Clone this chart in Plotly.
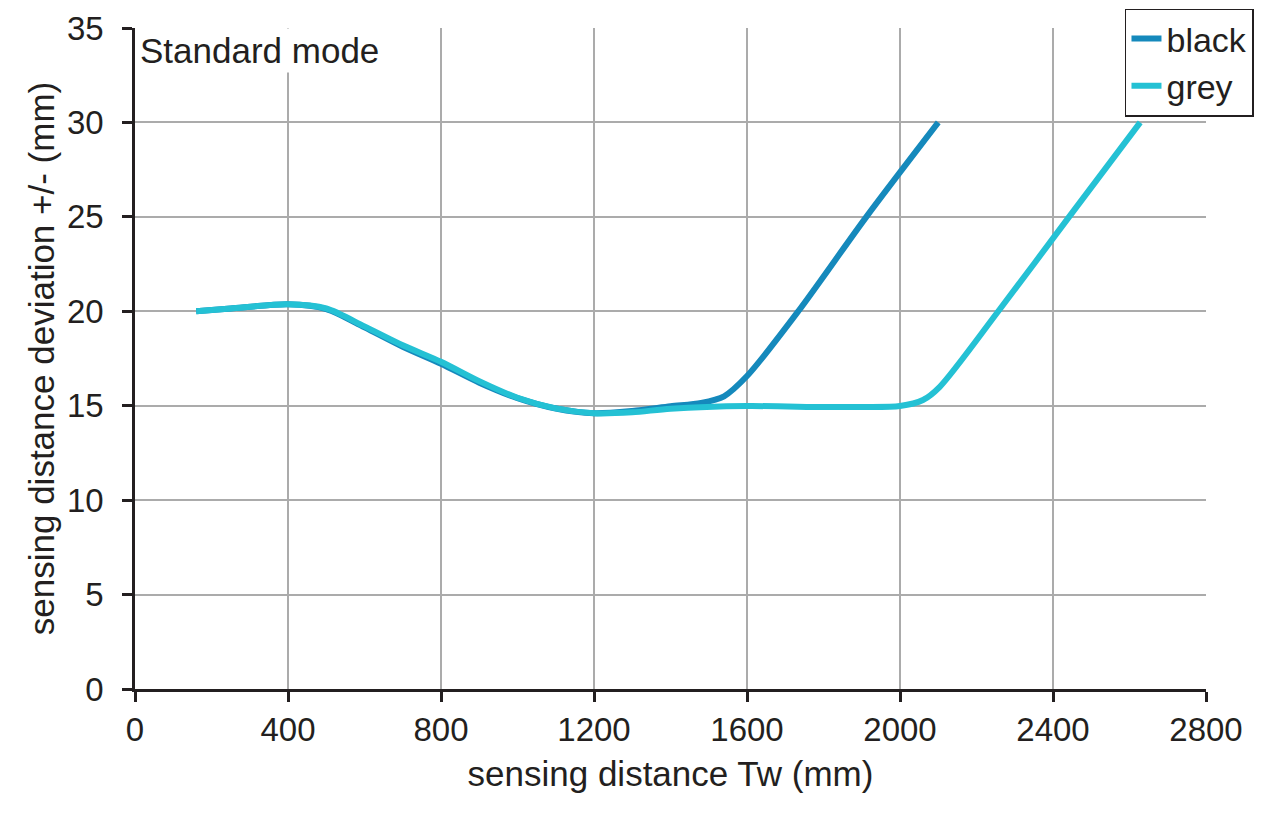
import plotly.graph_objects as go

# Data
black_x = [160, 250, 400, 500, 600, 700, 800, 900, 1000, 1100, 1200, 1300, 1400, 1480, 1540, 1600, 1734, 1912, 2100]
black_y = [20.0, 20.15, 20.37, 20.12, 19.15, 18.12, 17.22, 16.22, 15.4, 14.85, 14.6, 14.72, 14.97, 15.15, 15.5, 16.57, 20.0, 25.0, 30.0]

grey_x = [160, 250, 400, 500, 600, 700, 800, 900, 1000, 1100, 1200, 1300, 1400, 1600, 1800, 1900, 2000, 2060, 2104, 2257, 2442, 2628]
grey_y = [20.0, 20.15, 20.37, 20.15, 19.2, 18.2, 17.33, 16.3, 15.42, 14.86, 14.6, 14.65, 14.84, 14.98, 14.93, 14.93, 14.98, 15.3, 16.0, 20.0, 25.0, 30.0]

x_ticks = [0, 400, 800, 1200, 1600, 2000, 2400, 2800]
y_ticks = [0, 5, 10, 15, 20, 25, 30, 35]

FONT = "Liberation Sans, Arial, sans-serif"
AXIS = "#231f20"
GRID = "#ababab"

fig = go.Figure()
fig.add_trace(go.Scatter(
    x=black_x, y=black_y, name="black", mode="lines",
    line=dict(color="#1589bc", width=6, shape="spline", smoothing=0.8),
))
fig.add_trace(go.Scatter(
    x=grey_x, y=grey_y, name="grey", mode="lines",
    line=dict(color="#24c1d4", width=6, shape="spline", smoothing=0.8),
))

fig.update_layout(
    width=1280, height=832,
    margin=dict(l=127, r=82, t=20, b=151, autoexpand=False),
    paper_bgcolor="white", plot_bgcolor="white",
    font=dict(family=FONT, size=33, color="#231f20"),
    showlegend=True,
    legend=dict(
        x=1.0448, xanchor="right", y=1.0295, yanchor="top",
        bgcolor="white", bordercolor="#231f20", borderwidth=1.5,
        font=dict(family=FONT, size=34, color="#231f20"),
        tracegroupgap=0, itemwidth=30,
    ),
    xaxis=dict(
        range=[0, 2800], tickvals=x_ticks, ticktext=[str(v) for v in x_ticks],
        showgrid=True, gridcolor=GRID, gridwidth=1.5,
        showline=True, linecolor=AXIS, linewidth=2.5,
        ticks="outside", ticklen=10, tickwidth=2.5, tickcolor=AXIS,
        zeroline=False,
        title=dict(text="sensing distance Tw (mm)", standoff=15,
                   font=dict(family=FONT, size=35)),
        tickfont=dict(family=FONT, size=33),
    ),
    yaxis=dict(
        range=[0, 35], tickvals=y_ticks, ticktext=[str(v) for v in y_ticks],
        showgrid=True, gridcolor=GRID, gridwidth=1.5,
        showline=True, linecolor=AXIS, linewidth=2.5,
        ticks="outside", ticklen=10, tickwidth=2.5, tickcolor=AXIS,
        ticklabelstandoff=12,
        zeroline=False,
        title=dict(text="sensing distance deviation +/- (mm)", standoff=2,
                   font=dict(family=FONT, size=35)),
        tickfont=dict(family=FONT, size=33),
    ),
    annotations=[dict(
        text="Standard mode", xref="paper", yref="paper",
        x=0.0015, y=1.0, xanchor="left", yanchor="top",
        showarrow=False, bgcolor="white", borderpad=2,
        font=dict(family=FONT, size=35, color="#231f20"),
    )],
)

fig.write_html("out.html")
